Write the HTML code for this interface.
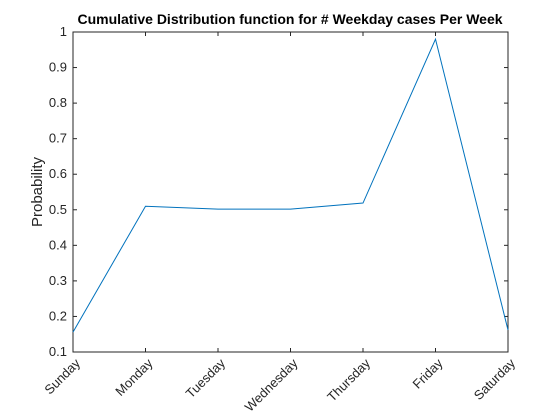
<!DOCTYPE html>
<html>
<head>
<meta charset="utf-8">
<style>
html,body{margin:0;padding:0;background:#fff;}
svg{display:block;font-family:"Liberation Sans",Arial,sans-serif;}
</style>
</head>
<body>
<svg id="chart" width="560" height="420" viewBox="0 0 560 420">
  <rect x="0" y="0" width="560" height="420" fill="#fff"/>
  <text x="290" y="24" text-anchor="middle" font-size="14" font-weight="bold" fill="#000">Cumulative Distribution function for # Weekday cases Per Week</text>
  <text transform="translate(42,192) rotate(-90)" text-anchor="middle" font-size="15" fill="#262626">Probability</text>
  <g id="axes"></g>
  <g id="series"></g>
</svg>
<script>
const categories = ["Sunday","Monday","Tuesday","Wednesday","Thursday","Friday","Saturday"];
const probValues = [0.156, 0.51, 0.502, 0.502, 0.519, 0.98, 0.162];
const yTicks = [0.1,0.2,0.3,0.4,0.5,0.6,0.7,0.8,0.9,1];
const yTickLabels = ["0.1","0.2","0.3","0.4","0.5","0.6","0.7","0.8","0.9","1"];

const L=73,R=508,T=32,B=352,yMin=0.1,yMax=1;
const NS="http://www.w3.org/2000/svg";
function xs(i){return L+(R-L)*i/(categories.length-1);}
function ys(v){return B-(v-yMin)/(yMax-yMin)*(B-T);}
function mk(tag,attrs,parent){const e=document.createElementNS(NS,tag);for(const k in attrs)e.setAttribute(k,attrs[k]);parent.appendChild(e);return e;}

const axes=document.getElementById('axes');
const box=mk('rect',{x:L,y:T,width:R-L,height:B-T,fill:'none',stroke:'#262626','stroke-width':1},axes);



yTicks.forEach((v,i)=>{
  const y=ys(v);
  const t1=mk('line',{x1:L,x2:L+4,y1:y,y2:y,stroke:'#262626'},axes);
  
  
  const t2=mk('line',{x1:R,x2:R-4,y1:y,y2:y,stroke:'#262626'},axes);
  
  
  const lb=mk('text',{x:L-6,y:y+4,'text-anchor':'end','font-size':13,fill:'#262626'},axes);
  lb.textContent=yTickLabels[i];
  
  
});

categories.forEach((c,i)=>{
  const x=xs(i);
  const t1=mk('line',{x1:x,x2:x,y1:B,y2:B-4,stroke:'#262626'},axes);
  
  
  const t2=mk('line',{x1:x,x2:x,y1:T,y2:T+4,stroke:'#262626'},axes);
  
  
  const lb=mk('text',{transform:`translate(${x+8},${B+12}) rotate(-45)`,'text-anchor':'end','font-size':13,fill:'#262626'},axes);
  lb.textContent=c;
  
  
});

const series=document.getElementById('series');
const pts=probValues.map((v,i)=>xs(i)+','+ys(v)).join(' ');
const line=mk('polyline',{points:pts,fill:'none',stroke:'#0072bd','stroke-width':1},series);


</script>
</body>
</html>
